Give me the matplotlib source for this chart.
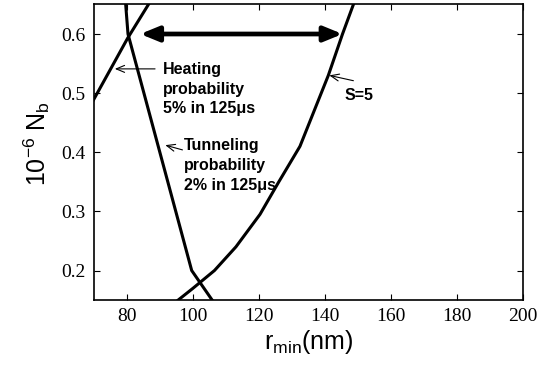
import matplotlib
matplotlib.use("Agg")
import matplotlib.pyplot as plt

plt.rcParams["mathtext.fontset"] = "custom"
plt.rcParams["mathtext.rm"] = "Liberation Sans"

# Data
heating_x = [68.0, 70.0, 80.2, 86.5, 88.0]
heating_y = [0.47, 0.49, 0.593, 0.65, 0.665]

tunnel_x = [79.5, 79.6, 80.3, 99.6, 105.8]
tunnel_y = [0.67, 0.65, 0.60, 0.20, 0.15]

s5_x = [95.5, 100.0, 106.5, 113.0, 120.3, 126.0, 132.4, 141.0, 145.3, 148.6]
s5_y = [0.15, 0.17, 0.20, 0.24, 0.295, 0.35, 0.41, 0.53, 0.60, 0.65]

xticks = [80, 100, 120, 140, 160, 180, 200]
yticks = [0.2, 0.3, 0.4, 0.5, 0.6]

arrow_range = (84.0, 145.3)
arrow_y = 0.60

fig = plt.figure(figsize=(5.39, 3.70), dpi=100)
ax = fig.add_axes([0.1744, 0.189, 0.7960, 0.799])

lw = 2.2
ax.plot(heating_x, heating_y, color="black", lw=lw)
ax.plot(tunnel_x, tunnel_y, color="black", lw=lw)
ax.plot(s5_x, s5_y, color="black", lw=lw)

ax.set_xlim(70, 200)
ax.set_ylim(0.15, 0.65)
ax.set_xticks(xticks)
ax.set_yticks(yticks)
ax.set_xticklabels([str(t) for t in xticks], family="Liberation Serif", fontsize=14)
ax.set_yticklabels([f"{t:.1f}" for t in yticks], family="Liberation Serif", fontsize=14)
ax.tick_params(direction="in", top=True, right=True, length=4, width=0.8, pad=6)
for sp in ax.spines.values():
    sp.set_linewidth(1.2)

ax.set_xlabel(r"r$_{\mathrm{min}}$(nm)", family="Liberation Sans", fontsize=18, labelpad=2)
ax.set_ylabel(r"10$^{-6}$ N$_{\mathrm{b}}$", family="Liberation Sans", fontsize=18)
ax.yaxis.set_label_coords(-0.097, 0.53)

# Thick double arrow
ax.annotate("", xy=(arrow_range[0], arrow_y), xytext=(arrow_range[1], arrow_y),
            arrowprops=dict(arrowstyle="<|-|>,head_length=1.1,head_width=0.45",
                            lw=3.4, color="black", shrinkA=0, shrinkB=0))

tkw = dict(family="Liberation Sans", fontweight="bold", fontsize=11.5,
           ha="left", va="top", linespacing=1.4)
thin = dict(arrowstyle="->,head_length=0.6,head_width=0.25", lw=0.8, color="black",
            shrinkA=0, shrinkB=0)

ax.text(90.8, 0.553, "Heating\nprobability\n5% in 125\u03bcs", **tkw)
ax.annotate("", xy=(76.3, 0.541), xytext=(88.5, 0.541), arrowprops=thin)

ax.text(97.2, 0.424, "Tunneling\nprobability\n2% in 125\u03bcs", **tkw)
ax.annotate("", xy=(91.6, 0.412), xytext=(96.8, 0.404), arrowprops=thin)

ax.text(146.0, 0.508, "S=5", **tkw)
ax.annotate("", xy=(141.3, 0.530), xytext=(148.6, 0.521), arrowprops=thin)

fig.savefig("out.png", dpi=100)
